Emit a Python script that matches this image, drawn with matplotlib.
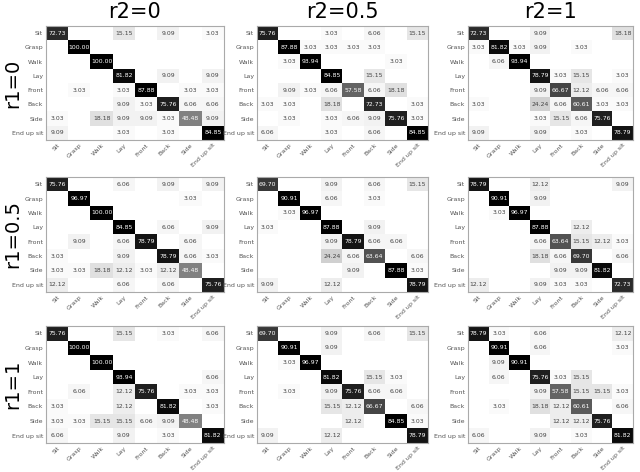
import matplotlib

matplotlib.use("Agg")
import matplotlib.pyplot as plt
import numpy as np


CLASSES = ["Sit", "Grasp", "Walk", "Lay", "Front", "Back", "Side", "End up sit"]
R1_LABELS = ["r1=0", "r1=0.5", "r1=1"]
R2_LABELS = ["r2=0", "r2=0.5", "r2=1"]

# confusion matrices in percent, rows = true class, cols = predicted; 0 = empty cell
CM_R1_0_R2_0 = [
    [72.73, 0, 0, 15.15, 0, 9.09, 0, 3.03],
    [0, 100.00, 0, 0, 0, 0, 0, 0],
    [0, 0, 100.00, 0, 0, 0, 0, 0],
    [0, 0, 0, 81.82, 0, 9.09, 0, 9.09],
    [0, 3.03, 0, 3.03, 87.88, 0, 3.03, 3.03],
    [0, 0, 0, 9.09, 3.03, 75.76, 6.06, 6.06],
    [3.03, 0, 18.18, 9.09, 9.09, 3.03, 48.48, 9.09],
    [9.09, 0, 0, 3.03, 0, 3.03, 0, 84.85],
]
CM_R1_0_R2_05 = [
    [75.76, 0, 0, 3.03, 0, 6.06, 0, 15.15],
    [0, 87.88, 3.03, 3.03, 3.03, 3.03, 0, 0],
    [0, 3.03, 93.94, 0, 0, 0, 3.03, 0],
    [0, 0, 0, 84.85, 0, 15.15, 0, 0],
    [0, 9.09, 3.03, 6.06, 57.58, 6.06, 18.18, 0],
    [3.03, 3.03, 0, 18.18, 0, 72.73, 0, 3.03],
    [0, 3.03, 0, 3.03, 6.06, 9.09, 75.76, 3.03],
    [6.06, 0, 0, 3.03, 0, 6.06, 0, 84.85],
]
CM_R1_0_R2_1 = [
    [72.73, 0, 0, 9.09, 0, 0, 0, 18.18],
    [3.03, 81.82, 3.03, 9.09, 0, 3.03, 0, 0],
    [0, 6.06, 93.94, 0, 0, 0, 0, 0],
    [0, 0, 0, 78.79, 3.03, 15.15, 0, 3.03],
    [0, 0, 0, 9.09, 66.67, 12.12, 6.06, 6.06],
    [3.03, 0, 0, 24.24, 6.06, 60.61, 3.03, 3.03],
    [0, 0, 0, 3.03, 15.15, 6.06, 75.76, 0],
    [9.09, 0, 0, 9.09, 0, 3.03, 0, 78.79],
]
CM_R1_05_R2_0 = [
    [75.76, 0, 0, 6.06, 0, 9.09, 0, 9.09],
    [0, 96.97, 0, 0, 0, 0, 3.03, 0],
    [0, 0, 100.00, 0, 0, 0, 0, 0],
    [0, 0, 0, 84.85, 0, 6.06, 0, 9.09],
    [0, 9.09, 0, 6.06, 78.79, 0, 6.06, 0],
    [3.03, 0, 0, 9.09, 0, 78.79, 6.06, 3.03],
    [3.03, 3.03, 18.18, 12.12, 3.03, 12.12, 48.48, 0],
    [12.12, 0, 0, 6.06, 0, 6.06, 0, 75.76],
]
CM_R1_05_R2_05 = [
    [69.70, 0, 0, 9.09, 0, 6.06, 0, 15.15],
    [0, 90.91, 0, 6.06, 0, 3.03, 0, 0],
    [0, 3.03, 96.97, 0, 0, 0, 0, 0],
    [3.03, 0, 0, 87.88, 0, 9.09, 0, 0],
    [0, 0, 0, 9.09, 78.79, 6.06, 6.06, 0],
    [0, 0, 0, 24.24, 6.06, 63.64, 0, 6.06],
    [0, 0, 0, 0, 9.09, 0, 87.88, 3.03],
    [9.09, 0, 0, 12.12, 0, 0, 0, 78.79],
]
CM_R1_05_R2_1 = [
    [78.79, 0, 0, 12.12, 0, 0, 0, 9.09],
    [0, 90.91, 0, 9.09, 0, 0, 0, 0],
    [0, 3.03, 96.97, 0, 0, 0, 0, 0],
    [0, 0, 0, 87.88, 0, 12.12, 0, 0],
    [0, 0, 0, 6.06, 63.64, 15.15, 12.12, 3.03],
    [0, 0, 0, 18.18, 6.06, 69.70, 0, 6.06],
    [0, 0, 0, 0, 9.09, 9.09, 81.82, 0],
    [12.12, 0, 0, 9.09, 3.03, 3.03, 0, 72.73],
]
CM_R1_1_R2_0 = [
    [75.76, 0, 0, 15.15, 0, 3.03, 0, 6.06],
    [0, 100.00, 0, 0, 0, 0, 0, 0],
    [0, 0, 100.00, 0, 0, 0, 0, 0],
    [0, 0, 0, 93.94, 0, 0, 0, 6.06],
    [0, 6.06, 0, 12.12, 75.76, 0, 3.03, 3.03],
    [3.03, 0, 0, 12.12, 0, 81.82, 0, 3.03],
    [3.03, 3.03, 15.15, 15.15, 6.06, 9.09, 48.48, 0],
    [6.06, 0, 0, 9.09, 0, 3.03, 0, 81.82],
]
CM_R1_1_R2_05 = [
    [69.70, 0, 0, 9.09, 0, 6.06, 0, 15.15],
    [0, 90.91, 0, 9.09, 0, 0, 0, 0],
    [0, 3.03, 96.97, 0, 0, 0, 0, 0],
    [0, 0, 0, 81.82, 0, 15.15, 3.03, 0],
    [0, 3.03, 0, 9.09, 75.76, 6.06, 6.06, 0],
    [0, 0, 0, 15.15, 12.12, 66.67, 0, 6.06],
    [0, 0, 0, 0, 12.12, 0, 84.85, 3.03],
    [9.09, 0, 0, 12.12, 0, 0, 0, 78.79],
]
CM_R1_1_R2_1 = [
    [78.79, 3.03, 0, 6.06, 0, 0, 0, 12.12],
    [0, 90.91, 0, 6.06, 0, 0, 0, 3.03],
    [0, 9.09, 90.91, 0, 0, 0, 0, 0],
    [0, 6.06, 0, 75.76, 3.03, 15.15, 0, 0],
    [0, 0, 0, 9.09, 57.58, 15.15, 15.15, 3.03],
    [0, 3.03, 0, 18.18, 12.12, 60.61, 0, 6.06],
    [0, 0, 0, 0, 12.12, 12.12, 75.76, 0],
    [6.06, 0, 0, 9.09, 0, 3.03, 0, 81.82],
]

GRID = [
    [CM_R1_0_R2_0, CM_R1_0_R2_05, CM_R1_0_R2_1],
    [CM_R1_05_R2_0, CM_R1_05_R2_05, CM_R1_05_R2_1],
    [CM_R1_1_R2_0, CM_R1_1_R2_05, CM_R1_1_R2_1],
]

W, H = 640, 472
# panel boxes in pixels (left, right) per column and (top, bottom) per row
COL_X = [(46, 224), (257, 428), (468, 633)]
ROW_Y = [(26, 140), (177, 292), (326, 443)]


def draw_cm(ax, cm):
    cm = np.asarray(cm, dtype=float)
    ax.imshow(cm, cmap="Greys", vmin=0, vmax=85, aspect="auto", interpolation="nearest")
    for i in range(cm.shape[0]):
        for j in range(cm.shape[1]):
            v = cm[i, j]
            if v <= 0:
                continue
            color = "white" if v > 40 else "#444444"
            ax.text(j, i, f"{v:.2f}", ha="center", va="center", fontsize=4.4, color=color)
    ax.set_xticks(range(len(CLASSES)))
    ax.set_yticks(range(len(CLASSES)))
    ax.set_xticklabels(CLASSES, rotation=45, ha="right", rotation_mode="anchor")
    ax.set_yticklabels(CLASSES)
    ax.tick_params(length=0, labelsize=4.5, labelcolor="#555555", pad=2)
    for sp in ax.spines.values():
        sp.set_color("#aaaaaa")
        sp.set_linewidth(0.8)


def main():
    fig = plt.figure(figsize=(W / 100, H / 100), dpi=100)
    for r, (top, bottom) in enumerate(ROW_Y):
        for c, (left, right) in enumerate(COL_X):
            ax = fig.add_axes([left / W, 1 - bottom / H, (right - left) / W, (bottom - top) / H])
            draw_cm(ax, GRID[r][c])
        fig.text(13 / W, 1 - (top + bottom) / 2 / H, R1_LABELS[r], rotation=90,
                 ha="center", va="center", fontsize=14)
    for c, (left, right) in enumerate(COL_X):
        fig.text((left + right) / 2 / W, 1 - 12 / H, R2_LABELS[c], ha="center", va="center", fontsize=15)
    fig.savefig("out.png", dpi=100)
    plt.close(fig)


if __name__ == "__main__":
    main()
